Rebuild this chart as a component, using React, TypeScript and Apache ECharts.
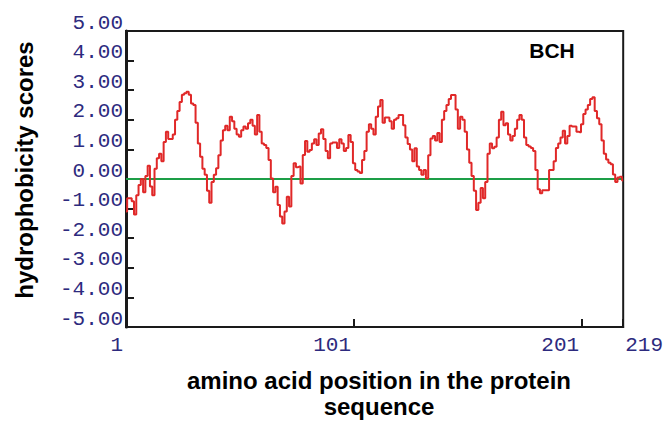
import React, { useEffect, useRef } from "react";
import * as echarts from "echarts";

const positionTicks = [1, 101, 201, 219];
const scoreTicksMin = -5;
const scoreTicksMax = 5;
const zeroLine = [
  [1, 0],
  [219, 0],
];
const scores = [
  -1.1, -0.65, -0.65, -0.75, -1.2, -0.55, -0.2, 0.0, -0.45, 0.1,
  0.45, -0.25, -0.55, 0.35, 0.7, 0.85, 0.6, 1.25, 1.6, 1.35,
  1.35, 1.5, 2.0, 2.3, 2.6, 2.85, 2.9, 2.95, 2.85, 2.55,
  2.5, 1.9, 1.2, 0.75, 0.35, 0.14, -0.4, -0.8, -0.1, 0.14,
  0.36, 0.8, 1.3, 1.65, 1.8, 1.65, 2.1, 1.95, 1.7, 1.5,
  1.43, 1.65, 1.77, 1.7, 1.88, 2.0, 1.8, 1.5, 2.16, 1.6,
  1.2, 1.15, 1.05, 0.64, 0.02, -0.45, -0.26, -0.88, -1.27, -1.5,
  -1.1, -0.6, -0.93, 0.1, 0.53, 0.4, 0.42, -0.15, 0.81, 1.28,
  0.92, 0.98, 1.2, 1.34, 1.15, 1.54, 1.68, 1.35, 0.95, 0.7,
  1.2, 1.23, 1.23, 1.05, 1.34, 1.2, 0.95, 1.05, 1.49, 1.25,
  0.53, 0.3, 0.25, 0.2, 0.64, 0.95, 1.6, 1.85, 1.7, 1.5,
  2.1, 2.45, 2.67, 1.9, 2.08, 2.08, 1.95, 1.7, 2.0, 2.05,
  2.16, 2.16, 1.82, 1.4, 1.18, 1.0, 0.6, 1.04, 0.42, 0.3,
  0.14, 0.3, 0.02, 0.8, 1.37, 1.45, 1.3, 1.55, 1.25, 2.0,
  2.3, 2.5, 2.7, 2.84, 2.84, 2.35, 1.7, 2.1, 2.0, 1.6,
  1.0, 0.55, 0.1, -0.4, -1.05, -0.8, -0.3, -0.65, -0.1, 0.85,
  1.2, 1.04, 1.09, 1.4, 2.0, 2.27, 1.82, 1.88, 1.5, 1.3,
  1.45, 1.7, 2.0, 2.16, 2.0, 1.4, 1.15, 1.1, 1.05, 0.95,
  0.3, -0.35, -0.48, -0.38, -0.38, -0.38, 0.3, 0.3, 0.6, 1.05,
  1.2, 1.4, 1.63, 1.2, 1.45, 1.8, 1.77, 1.77, 1.6, 1.58,
  1.85, 2.2, 2.35, 2.5, 2.7, 2.76, 2.3, 2.05, 1.85, 1.3,
  0.85, 0.66, 0.55, 0.5, 0.15, -0.1, 0.05, 0.08, -0.05,
];

const yTitle = "hydrophobicity scores";
const xTitle = "amino acid position in the protein\nsequence";
const tag = "BCH";

export default function App() {
  const ref = useRef<HTMLDivElement>(null);
  useEffect(() => {
    if (!ref.current) return;
    const chart = echarts.init(ref.current, null, { renderer: "svg" });
    const labelColor = "#2d2a7e";
    const mono = '"Liberation Mono", "DejaVu Sans Mono", monospace';
    const sans = '"Liberation Sans", Arial, sans-serif';
    chart.setOption({
      animation: false,
      backgroundColor: "#ffffff",
      grid: {
        left: 126,
        right: 40,
        top: 31,
        bottom: 94,
        show: true,
        borderColor: "#1a1a1a",
        borderWidth: 2,
        backgroundColor: "transparent",
      },
      xAxis: {
        type: "value",
        min: 1,
        max: 219,
        splitLine: { show: false },
        axisLine: { show: true, onZero: false, lineStyle: { color: "#1a1a1a", width: 2 } },
        axisTick: {
          show: true,
          inside: true,
          length: 8,
          customValues: positionTicks,
          lineStyle: { color: "#1a1a1a", width: 2 },
        },
        axisLabel: {
          customValues: positionTicks,
          fontFamily: mono,
          fontSize: 21,
          color: labelColor,
          align: "right",
          alignMaxLabel: "left",
          padding: [0, 3, 0, 2],
          margin: 8,
        },
      },
      yAxis: {
        type: "value",
        min: scoreTicksMin,
        max: scoreTicksMax,
        interval: 1,
        splitLine: { show: false },
        axisLine: { show: true, lineStyle: { color: "#1a1a1a", width: 3 } },
        axisTick: {
          show: true,
          inside: true,
          length: 8,
          lineStyle: { color: "#1a1a1a", width: 2 },
        },
        axisLabel: {
          fontFamily: mono,
          fontSize: 21,
          lineHeight: 16,
          color: labelColor,
          margin: 3,
          verticalAlign: "bottom",
          formatter: (v: number) => v.toFixed(2),
        },
      },
      graphic: [
        {
          type: "text",
          x: 24,
          y: 170,
          rotation: Math.PI / 2,
          style: {
            text: yTitle,
            font: `bold 24px ${sans}`,
            fill: "#000",
            align: "center",
            verticalAlign: "middle",
          },
        },
        {
          type: "text",
          x: 379,
          y: 393,
          style: {
            text: xTitle,
            font: `bold 24px ${sans}`,
            fill: "#000",
            align: "center",
            verticalAlign: "middle",
            lineHeight: 26,
          },
        },
        {
          type: "text",
          x: 552,
          y: 50,
          style: {
            text: tag,
            font: `bold 21px ${sans}`,
            fill: "#000",
            align: "center",
            verticalAlign: "middle",
          },
        },
      ],
      series: [
        {
          type: "line",
          data: zeroLine,
          symbol: "none",
          silent: true,
          lineStyle: { color: "#1d9e47", width: 2 },
        },
        {
          type: "line",
          data: scores.map((v, k) => [k + 1, v]),
          step: "middle",
          symbol: "none",
          silent: true,
          lineStyle: { color: "#e02828", width: 2 },
        },
      ],
    });
    return () => chart.dispose();
  }, []);
  return (
    <div
      ref={ref}
      style={{ position: "absolute", left: 0, top: 0, width: 666, height: 421 }}
    />
  );
}
